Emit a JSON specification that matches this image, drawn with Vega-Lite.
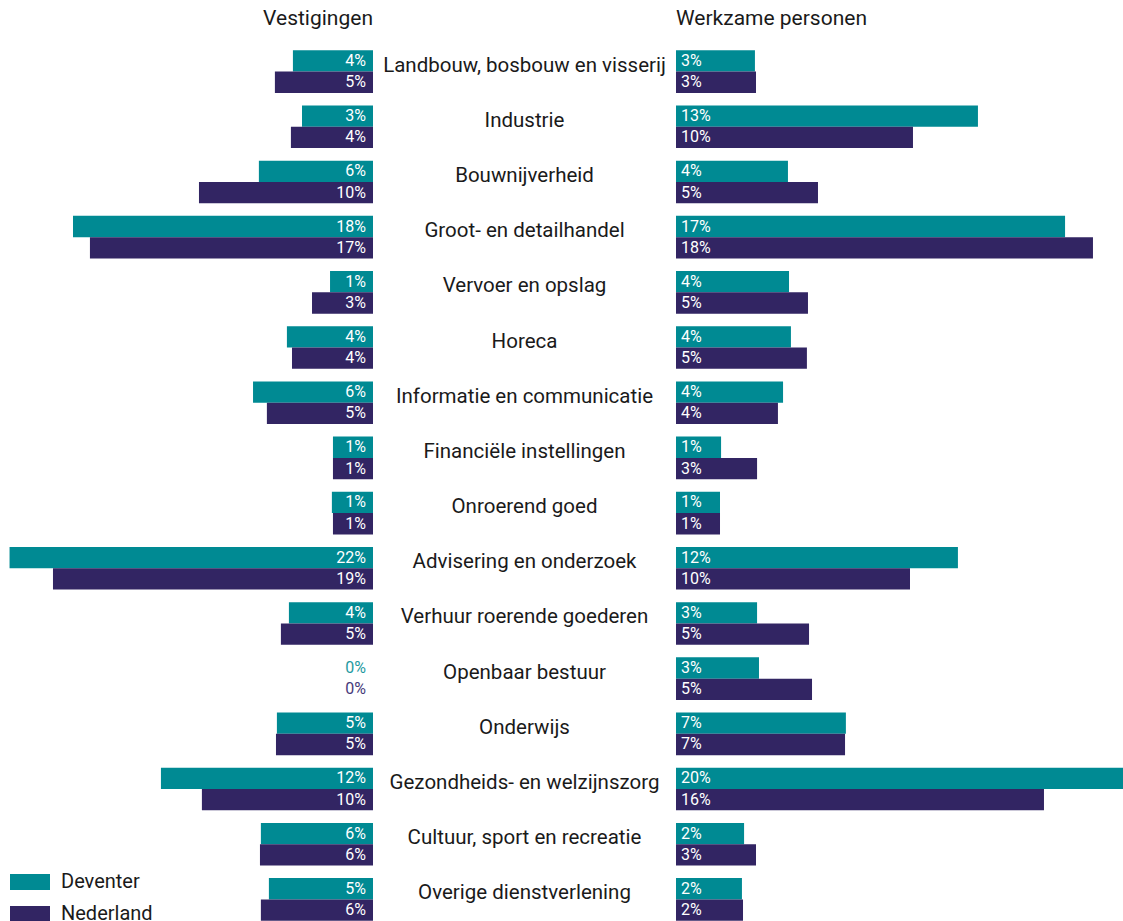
{
  "$schema": "https://vega.github.io/schema/vega-lite/v6.json",
  "padding": {"top": 8, "left": 0, "right": 0, "bottom": 0},
  "autosize": {"type": "pad"},
  "bounds": "flush",
  "spacing": 0,
  "config": {
    "view": {"stroke": null},
    "font": "Roboto",
    "title": {"fontSize": 21, "fontWeight": "normal", "color": "#1a1a1a", "font": "Roboto", "offset": 15}
  },
  "data": {"values": [
    {"cat": "Landbouw, bosbouw en visserij", "s": "Deventer", "v": 3.60, "vl": "4%", "w": 2.65, "wl": "3%"},
    {"cat": "Landbouw, bosbouw en visserij", "s": "Nederland", "v": 4.77, "vl": "5%", "w": 2.70, "wl": "3%"},
    {"cat": "Industrie", "s": "Deventer", "v": 3.01, "vl": "3%", "w": 13.12, "wl": "13%"},
    {"cat": "Industrie", "s": "Nederland", "v": 3.73, "vl": "4%", "w": 10.07, "wl": "10%"},
    {"cat": "Bouwnijverheid", "s": "Deventer", "v": 5.81, "vl": "6%", "w": 4.20, "wl": "4%"},
    {"cat": "Bouwnijverheid", "s": "Nederland", "v": 9.70, "vl": "10%", "w": 5.61, "wl": "5%"},
    {"cat": "Groot- en detailhandel", "s": "Deventer", "v": 17.88, "vl": "18%", "w": 17.21, "wl": "17%"},
    {"cat": "Groot- en detailhandel", "s": "Nederland", "v": 16.78, "vl": "17%", "w": 18.52, "wl": "18%"},
    {"cat": "Vervoer en opslag", "s": "Deventer", "v": 1.19, "vl": "1%", "w": 4.25, "wl": "4%"},
    {"cat": "Vervoer en opslag", "s": "Nederland", "v": 2.36, "vl": "3%", "w": 5.14, "wl": "5%"},
    {"cat": "Horeca", "s": "Deventer", "v": 3.99, "vl": "4%", "w": 4.34, "wl": "4%"},
    {"cat": "Horeca", "s": "Nederland", "v": 3.66, "vl": "4%", "w": 5.09, "wl": "5%"},
    {"cat": "Informatie en communicatie", "s": "Deventer", "v": 6.19, "vl": "6%", "w": 3.97, "wl": "4%"},
    {"cat": "Informatie en communicatie", "s": "Nederland", "v": 5.29, "vl": "5%", "w": 3.73, "wl": "4%"},
    {"cat": "Financiële instellingen", "s": "Deventer", "v": 1.00, "vl": "1%", "w": 1.06, "wl": "1%"},
    {"cat": "Financiële instellingen", "s": "Nederland", "v": 1.00, "vl": "1%", "w": 2.75, "wl": "3%"},
    {"cat": "Onroerend goed", "s": "Deventer", "v": 1.07, "vl": "1%", "w": 1.01, "wl": "1%"},
    {"cat": "Onroerend goed", "s": "Nederland", "v": 1.00, "vl": "1%", "w": 1.01, "wl": "1%"},
    {"cat": "Advisering en onderzoek", "s": "Deventer", "v": 22.0, "vl": "22%", "w": 12.18, "wl": "12%"},
    {"cat": "Advisering en onderzoek", "s": "Nederland", "v": 19.18, "vl": "19%", "w": 9.93, "wl": "10%"},
    {"cat": "Verhuur roerende goederen", "s": "Deventer", "v": 3.86, "vl": "4%", "w": 2.75, "wl": "3%"},
    {"cat": "Verhuur roerende goederen", "s": "Nederland", "v": 4.38, "vl": "5%", "w": 5.19, "wl": "5%"},
    {"cat": "Openbaar bestuur", "s": "Deventer", "v": 0, "vl": "0%", "w": 2.84, "wl": "3%"},
    {"cat": "Openbaar bestuur", "s": "Nederland", "v": 0, "vl": "0%", "w": 5.33, "wl": "5%"},
    {"cat": "Onderwijs", "s": "Deventer", "v": 4.64, "vl": "5%", "w": 6.92, "wl": "7%"},
    {"cat": "Onderwijs", "s": "Nederland", "v": 4.70, "vl": "5%", "w": 6.88, "wl": "7%"},
    {"cat": "Gezondheids- en welzijnszorg", "s": "Deventer", "v": 12.17, "vl": "12%", "w": 19.93, "wl": "20%"},
    {"cat": "Gezondheids- en welzijnszorg", "s": "Nederland", "v": 9.51, "vl": "10%", "w": 16.22, "wl": "16%"},
    {"cat": "Cultuur, sport en recreatie", "s": "Deventer", "v": 5.68, "vl": "6%", "w": 2.14, "wl": "2%"},
    {"cat": "Cultuur, sport en recreatie", "s": "Nederland", "v": 5.74, "vl": "6%", "w": 2.70, "wl": "3%"},
    {"cat": "Overige dienstverlening", "s": "Deventer", "v": 5.16, "vl": "5%", "w": 2.04, "wl": "2%"},
    {"cat": "Overige dienstverlening", "s": "Nederland", "v": 5.68, "vl": "6%", "w": 2.09, "wl": "2%"}
  ]},
  "resolve": {"scale": {"x": "independent", "y": "shared", "color": "shared"}, "legend": {"color": "independent"}},
  "hconcat": [
    {
      "width": 373,
      "height": 883,
      "title": {"text": "Vestigingen", "anchor": "end"},
      "encoding": {
        "y": {"field": "cat", "type": "nominal", "axis": null, "scale": {"domain": ["Landbouw, bosbouw en visserij", "Industrie", "Bouwnijverheid", "Groot- en detailhandel", "Vervoer en opslag", "Horeca", "Informatie en communicatie", "Financiële instellingen", "Onroerend goed", "Advisering en onderzoek", "Verhuur roerende goederen", "Openbaar bestuur", "Onderwijs", "Gezondheids- en welzijnszorg", "Cultuur, sport en recreatie", "Overige dienstverlening"], "paddingInner": 0.228, "paddingOuter": 0.114}},
        "yOffset": {"field": "s", "type": "nominal", "scale": {"domain": ["Deventer", "Nederland"], "paddingInner": 0, "paddingOuter": 0}}
      },
      "layer": [
        {
          "transform": [{"filter": "datum.v > 0"}],
          "mark": {"type": "bar"},
          "encoding": {
            "x": {"field": "v", "type": "quantitative", "scale": {"domain": [-1.6, 22.62], "reverse": true, "nice": false, "zero": false}, "axis": null},
            "x2": {"datum": -1.6},
            "color": {
              "field": "s", "type": "nominal",
              "scale": {"domain": ["Deventer", "Nederland"], "range": ["#008A93", "#322563"]},
              "legend": {
                "orient": "none", "legendX": 10, "legendY": 828, "title": null,
                "symbolType": "M-1,-0.4H1V0.4H-1Z", "symbolSize": 1600, "symbolStrokeWidth": 0,
                "labelFontSize": 20, "labelColor": "#1a1a1a", "labelFont": "Roboto",
                "clipHeight": 20, "rowPadding": 12, "labelOffset": 11, "padding": 0
              }
            }
          }
        },
        {
          "transform": [{"filter": "datum.v > 0"}],
          "mark": {"type": "text", "align": "right", "baseline": "middle", "dx": -7, "color": "white", "fontSize": 16},
          "encoding": {"x": {"datum": -1.6, "type": "quantitative"}, "text": {"field": "vl"}}
        },
        {
          "transform": [{"filter": "datum.v == 0 && datum.s == 'Deventer'"}],
          "mark": {"type": "text", "align": "right", "baseline": "middle", "dx": -7, "color": "#1E9AA1", "fontSize": 16},
          "encoding": {"x": {"datum": -1.6, "type": "quantitative"}, "text": {"field": "vl"}}
        },
        {
          "transform": [{"filter": "datum.v == 0 && datum.s == 'Nederland'"}],
          "mark": {"type": "text", "align": "right", "baseline": "middle", "dx": -7, "color": "#463A7A", "fontSize": 16},
          "encoding": {"x": {"datum": -1.6, "type": "quantitative"}, "text": {"field": "vl"}}
        }
      ]
    },
    {
      "width": 303,
      "height": 883,
      "transform": [{"filter": "datum.s == 'Deventer'"}],
      "mark": {"type": "text", "fontSize": 20.5, "baseline": "alphabetic", "align": "center", "color": "#1a1a1a"},
      "encoding": {
        "y": {"field": "cat", "type": "nominal", "axis": null, "scale": {"domain": ["Landbouw, bosbouw en visserij", "Industrie", "Bouwnijverheid", "Groot- en detailhandel", "Vervoer en opslag", "Horeca", "Informatie en communicatie", "Financiële instellingen", "Onroerend goed", "Advisering en onderzoek", "Verhuur roerende goederen", "Openbaar bestuur", "Onderwijs", "Gezondheids- en welzijnszorg", "Cultuur, sport en recreatie", "Overige dienstverlening"], "paddingInner": 0.228, "paddingOuter": 0.114}},
        "text": {"field": "cat"}
      }
    },
    {
      "width": 447,
      "height": 883,
      "title": {"text": "Werkzame personen", "anchor": "start"},
      "encoding": {
        "y": {"field": "cat", "type": "nominal", "axis": null, "scale": {"domain": ["Landbouw, bosbouw en visserij", "Industrie", "Bouwnijverheid", "Groot- en detailhandel", "Vervoer en opslag", "Horeca", "Informatie en communicatie", "Financiële instellingen", "Onroerend goed", "Advisering en onderzoek", "Verhuur roerende goederen", "Openbaar bestuur", "Onderwijs", "Gezondheids- en welzijnszorg", "Cultuur, sport en recreatie", "Overige dienstverlening"], "paddingInner": 0.228, "paddingOuter": 0.114}},
        "yOffset": {"field": "s", "type": "nominal", "scale": {"domain": ["Deventer", "Nederland"], "paddingInner": 0, "paddingOuter": 0}}
      },
      "layer": [
        {
          "mark": {"type": "bar"},
          "encoding": {
            "x": {"field": "w", "type": "quantitative", "scale": {"domain": [-1.056, 19.93], "nice": false, "zero": false}, "axis": null},
            "x2": {"datum": -1.056},
            "color": {"field": "s", "type": "nominal", "legend": null}
          }
        },
        {
          "mark": {"type": "text", "align": "left", "baseline": "middle", "dx": 5, "color": "white", "fontSize": 16},
          "encoding": {"x": {"datum": -1.056, "type": "quantitative"}, "text": {"field": "wl"}}
        }
      ]
    }
  ]
}
